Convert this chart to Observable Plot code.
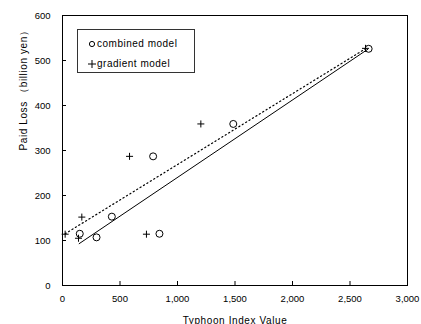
<!DOCTYPE html>
<html><head><meta charset="utf-8">
<script src="https://cdn.jsdelivr.net/npm/d3@7"></script>
<script src="https://cdn.jsdelivr.net/npm/@observablehq/plot@0.6"></script>
<style>
body{margin:0;background:#fff;}
#wrap{position:relative;width:421px;height:324px;overflow:hidden;}
#legend{position:absolute;left:77px;top:29px;width:118px;height:44px;border:1px solid #333;box-sizing:border-box;font:10px "Liberation Sans",Arial,sans-serif;letter-spacing:0.5px;color:#000;background:#fff;}
#legend .row{position:absolute;left:0;height:14px;line-height:14px;}
#legend .row svg{position:absolute;left:10px;top:2px;}
#legend .row span{position:absolute;left:19px;top:0;white-space:nowrap;}
</style></head><body><div id="wrap"></div>
<script>
const combinedX = [150, 296, 429, 788, 843, 1485, 2662];
const combinedY = [115, 107, 153, 287, 115, 359, 526];
const gradientX = [23, 139, 168, 583, 730, 1203, 2635];
const gradientY = [114, 105, 152, 287, 114, 359, 527];
// Fitted lines (end points)
const combinedFitX = [145, 2655];
const combinedFitY = [93, 525];
const gradientFitX = [23, 2640];
const gradientFitY = [115, 527];
// Axis ticks
const xTicks = [0, 500, 1000, 1500, 2000, 2500, 3000];
const yTicks = [0, 100, 200, 300, 400, 500, 600];
const seriesNames = ["combined model", "gradient model"];

const pts = (xs, ys) => xs.map((x, i) => ({x, y: ys[i]}));
const combined = pts(combinedX, combinedY);
const gradient = pts(gradientX, gradientY);
const combinedFit = pts(combinedFitX, combinedFitY);
const gradientFit = pts(gradientFitX, gradientFitY);

const font = '"Liberation Sans", Arial, sans-serif';
const chart = Plot.plot({
  width: 421, height: 324,
  marginLeft: 62, marginRight: 14, marginTop: 15, marginBottom: 39,
  style: {fontFamily: font, fontSize: "9.5px", color: "#000", background: "#fff"},
  x: {domain: [0, 3000]},
  y: {domain: [0, 600]},
  marks: [
    Plot.frame({stroke: "#000", strokeWidth: 1}),
    Plot.axisX({ticks: xTicks, tickFormat: d3.format(","), tickSize: -4, tickPadding: 14,
      label: null, stroke: "#000"}),
    Plot.axisY({ticks: yTicks, tickSize: -4, tickPadding: 16, label: null, stroke: "#000"}),
    Plot.line(combinedFit, {x: "x", y: "y", stroke: "#000", strokeWidth: 1}),
    Plot.line(gradientFit, {x: "x", y: "y", stroke: "#000", strokeWidth: 1.2, strokeDasharray: "1.2,2.8"}),
    Plot.dot(combined, {x: "x", y: "y", r: 3.5, stroke: "#000", strokeWidth: 1, fill: "none"}),
    Plot.dot(gradient, {x: "x", y: "y", symbol: "plus", r: 2.4, stroke: "#000", strokeWidth: 1, fill: "none"}),
    Plot.text(["Typhoon Index Value"], {frameAnchor: "bottom", dy: 38, lineAnchor: "bottom",
      fontSize: 10, fill: "#000"}),
    Plot.text(["Paid Loss （billion yen）"], {frameAnchor: "left", dx: -43, rotate: -90, lineAnchor: "top",
      fontSize: 10, fill: "#000"})
  ]
});
chart.querySelectorAll("text").forEach(t => {
  if (t.textContent === "Typhoon Index Value" || t.textContent.startsWith("Paid Loss")) t.style.letterSpacing = "0.6px";
});
const wrap = document.getElementById("wrap");
wrap.appendChild(chart);

const legend = document.createElement("div");
legend.id = "legend";
legend.innerHTML = `
<div class="row" style="top:7px"><svg width="8" height="10"><circle cx="4" cy="5" r="2.6" fill="none" stroke="#000" stroke-width="1"/></svg><span>${seriesNames[0]}</span></div>
<div class="row" style="top:27px"><svg width="8" height="10"><path d="M0,5H8M4,1V9" stroke="#000" stroke-width="1" fill="none"/></svg><span>${seriesNames[1]}</span></div>`;
wrap.appendChild(legend);
</script>
</body></html>
